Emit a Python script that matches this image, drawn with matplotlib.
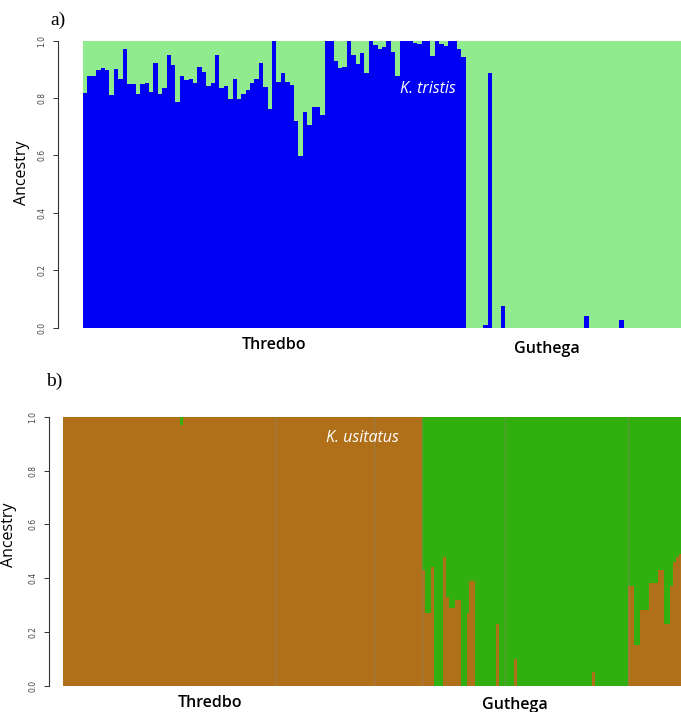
import matplotlib
matplotlib.use("Agg")
import matplotlib.pyplot as plt
import numpy as np

# a) K. tristis - proportion of blue cluster per individual
thredbo_a = [0.818, 0.875, 0.878, 0.898, 0.905, 0.898, 0.811, 0.900, 0.867, 0.971,
             0.847, 0.847, 0.814, 0.850, 0.852, 0.822, 0.922, 0.812, 0.834, 0.948,
             0.913, 0.787, 0.878, 0.861, 0.867, 0.852, 0.909, 0.890, 0.840, 0.853,
             0.950, 0.836, 0.840, 0.795, 0.866, 0.796, 0.814, 0.828, 0.852, 0.867,
             0.922, 0.838, 0.763, 0.997, 0.857,
             0.886, 0.855, 0.846, 0.721, 0.596, 0.750, 0.707, 0.768, 0.770, 0.741,
             1.000, 1.000, 0.930, 0.905, 0.908, 1.000, 0.948, 0.919, 0.956, 0.886,
             1.000, 0.986, 0.969, 0.977, 1.000, 0.959, 0.878, 1.000, 1.000, 1.000,
             0.990, 0.987, 1.000, 1.000, 0.946, 1.000, 0.987, 0.980, 1.000, 1.000,
             0.971, 0.942]
guthega_a = [0, 0, 0, 0, 0.01, 0.886, 0, 0, 0.076, 0,
             0, 0, 0, 0, 0, 0, 0, 0, 0, 0,
             0, 0, 0, 0, 0, 0, 0, 0.041, 0, 0,
             0, 0, 0, 0, 0, 0.027, 0, 0, 0, 0,
             0, 0, 0, 0, 0, 0, 0, 0, 0]

# b) K. usitatus - proportion of brown cluster per individual
thredbo_b = [1, 1, 1, 1, 1, 1, 1, 1, 1, 1, 1, 1, 1, 1, 1, 1, 1, 1, 1, 1,
             1, 1, 1, 1, 1, 1, 1, 1, 1, 1, 1, 1, 1, 1, 1, 1, 1, 1, 1, 0.97,
             1, 1, 1, 1, 1, 1, 1, 1, 1, 1, 1, 1, 1, 1, 1, 1, 1, 1, 1, 1,
             1, 1, 1, 1, 1, 1, 1, 1, 1, 1, 1, 1, 1, 1, 1, 1, 1, 1, 1, 1,
             1, 1, 1, 1, 1, 1, 1, 1, 1, 1, 1, 1, 1, 1, 1, 1, 1, 1, 1, 1,
             1, 1, 1, 1, 1, 1, 1, 1, 1, 1, 1, 1, 1, 1, 1, 1, 1, 1, 1, 1]
guthega_b = [0.43, 0.27, 0.27, 0.44, 0, 0, 0, 0.48, 0.33, 0.29,
             0.29, 0.32, 0.32, 0, 0, 0.27, 0.39, 0.39, 0, 0,
             0, 0, 0, 0, 0, 0.23, 0, 0, 0, 0,
             0, 0.10, 0, 0, 0, 0, 0, 0, 0, 0,
             0, 0, 0, 0, 0, 0, 0, 0, 0, 0,
             0, 0, 0, 0, 0, 0, 0, 0.05, 0, 0,
             0, 0, 0, 0, 0, 0, 0, 0, 0, 0.37,
             0.37, 0.15, 0.15, 0.28, 0.28, 0.28, 0.38, 0.38, 0.38, 0.43,
             0.43, 0.23, 0.23, 0.37, 0.46, 0.48, 0.49]
# sub-population borders (individual index) in panel b
borders_b = [71, 104, 120, 148, 189]

yticks = [0.0, 0.2, 0.4, 0.6, 0.8, 1.0]

W, H = 681, 712
fig = plt.figure(figsize=(W / 100, H / 100), dpi=100)

tick_font = ['Liberation Sans Narrow', 'DejaVu Sans']
lab_font = ['Open Sans', 'DejaVu Sans']


def setup_axis(ax, offset):
    ax.set_ylim(0, 1)
    for s in ['top', 'right', 'bottom']:
        ax.spines[s].set_visible(False)
    ax.spines['left'].set_position(('outward', offset))
    ax.spines['left'].set_bounds(0, 1)
    ax.spines['left'].set_linewidth(0.8)
    ax.spines['left'].set_color('#333333')
    ax.set_xticks([])
    ax.set_yticks(yticks)
    ax.set_yticklabels(['%.1f' % t for t in yticks], rotation=90, va='center',
                       fontsize=5.5, color='#444444', family=tick_font)
    ax.tick_params(axis='y', length=3.5, width=0.7, color='#333333', pad=5)


# ---- panel a ----
vals_a = np.array(thredbo_a + guthega_a)
n_a = len(vals_a)
x_a = np.arange(n_a)
ax1 = fig.add_axes([83 / W, 1 - 327.5 / H, 598 / W, 287 / H])
ax1.bar(x_a, vals_a, width=1.0, align='edge', color='#0000F5', linewidth=0)
ax1.bar(x_a, 1 - vals_a, bottom=vals_a, width=1.0, align='edge', color='#90EB8E', linewidth=0)
ax1.set_xlim(0, n_a)
setup_axis(ax1, 18)
ax1.set_ylabel('Ancestry', fontsize=11.5, family=lab_font)
ax1.yaxis.set_label_coords(-0.0886, 0.54)
ax1.text(len(thredbo_a) / 2, -0.06, 'Thredbo', ha='center', va='center',
         fontsize=11.5, fontweight='semibold', family=lab_font, transform=ax1.get_xaxis_transform())
ax1.text(105.5, -0.075, 'Guthega', ha='center', va='center',
         fontsize=11.5, fontweight='semibold', family=lab_font, transform=ax1.get_xaxis_transform())
ax1.text(78.5, 0.83, 'K. tristis', ha='center', va='center', color='white',
         fontsize=11.5, style='italic', family=lab_font)
fig.text(50 / W, 1 - 20 / H, 'a)', fontsize=14, family=['Liberation Serif', 'DejaVu Serif'],
         ha='left', va='center')

# ---- panel b ----
vals_b = np.array(thredbo_b + guthega_b, dtype=float)
n_b = len(vals_b)
x_b = np.arange(n_b)
bw = 358.4 / len(thredbo_b)
ax2 = fig.add_axes([63.3 / W, 1 - 685.7 / H, n_b * bw / W, 269 / H])
ax2.bar(x_b, vals_b, width=1.0, align='edge', color='#B0701A', linewidth=0)
ax2.bar(x_b, 1 - vals_b, bottom=vals_b, width=1.0, align='edge', color='#30AF0E', linewidth=0)
for b in borders_b:
    ax2.axvline(b, color='#8a8a6a', linewidth=0.8, alpha=0.55)
ax2.set_xlim(0, n_b)
setup_axis(ax2, 10.3)
ax2.set_ylabel('Ancestry', fontsize=11.5, family=lab_font)
ax2.yaxis.set_label_coords(-0.0746, 0.56)
ax2.text(49, -0.065, 'Thredbo', ha='center', va='center',
         fontsize=11.5, fontweight='semibold', family=lab_font, transform=ax2.get_xaxis_transform())
ax2.text(151.3, -0.07, 'Guthega', ha='center', va='center',
         fontsize=11.5, fontweight='semibold', family=lab_font, transform=ax2.get_xaxis_transform())
ax2.text(100, 0.92, 'K. usitatus', ha='center', va='center', color='white',
         fontsize=11.5, style='italic', family=lab_font)
fig.text(46 / W, 1 - 381 / H, 'b)', fontsize=14, family=['Liberation Serif', 'DejaVu Serif'],
         ha='left', va='center')

fig.savefig('out.png', dpi=100)
